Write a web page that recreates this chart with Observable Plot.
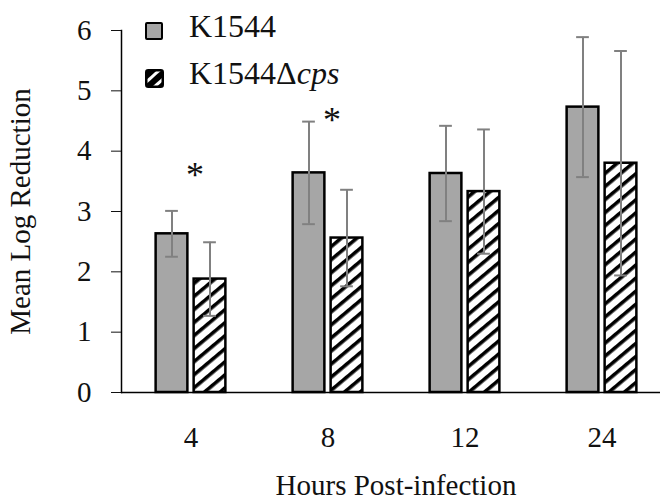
<!DOCTYPE html>
<html><head><meta charset="utf-8">
<script src="https://cdn.jsdelivr.net/npm/d3@7"></script>
<script src="https://cdn.jsdelivr.net/npm/@observablehq/plot@0.6"></script>
<style>
body{margin:0;background:#fff;}
#wrap{position:relative;width:660px;height:504px;overflow:hidden;}
.lg{position:absolute;font-family:"Liberation Serif",serif;font-size:32px;color:#111;line-height:1;white-space:nowrap;}
.sw{position:absolute;width:14px;height:14px;border:2.5px solid #000;border-radius:2px;}
</style></head><body>
<div id="wrap"><div id="chart"></div><div id="legend"></div></div>
<script>
// ---- data ----
const hours = ["4", "8", "12", "24"];
const strains = ["K1544", "K1544Δcps"];
const wildMean = [2.63, 3.64, 3.63, 4.73];
const wildErr = [0.38, 0.85, 0.79, 1.16];
const mutMean = [1.88, 2.56, 3.33, 3.80];
const mutErr = [0.61, 0.80, 1.03, 1.86];
const starHours = ["4", "8"];
const starValues = [3.72, 4.62];
const yTicks = [0, 1, 2, 3, 4, 5, 6];

const wild = hours.map((h, i) => ({hour: h, mean: wildMean[i], lo: wildMean[i] - wildErr[i], hi: wildMean[i] + wildErr[i]}));
const mut = hours.map((h, i) => ({hour: h, mean: mutMean[i], lo: mutMean[i] - mutErr[i], hi: mutMean[i] + mutErr[i]}));
const stars = starHours.map((h, i) => ({hour: h, v: starValues[i]}));

const W = 660, H = 504;
const step = (W - 121 + 10) / 4, half = step / 2;
const font = '"Liberation Serif", serif';

const errMarks = (data, off) => [
  Plot.ruleX(data, {x: "hour", y1: "lo", y2: "hi", dx: off, stroke: "#808080", strokeWidth: 2}),
  Plot.tickY(data, {x: "hour", y: "hi", dx: off, inset: half - 6.5, stroke: "#808080", strokeWidth: 2}),
  Plot.tickY(data, {x: "hour", y: "lo", dx: off, inset: half - 6.5, stroke: "#808080", strokeWidth: 2})
];

const chart = Plot.plot({
  width: W, height: H,
  marginLeft: 121, marginRight: -10, marginTop: 30, marginBottom: 112,
  style: {fontFamily: font, fontSize: "29px", color: "#111", background: "#fff", overflow: "hidden"},
  x: {domain: hours, padding: 0},
  y: {domain: [0, 6], ticks: yTicks},
  marks: [
    Plot.barY(wild, {x: "hour", y: "mean", fill: "#a6a6a6", stroke: "#000", strokeWidth: 2.5, insetLeft: half - 35, insetRight: half + 3}),
    Plot.barY(mut, {x: "hour", y: "mean", fill: "url(#hatch)", stroke: "#000", strokeWidth: 2.5, insetLeft: half + 3, insetRight: half - 35}),
    ...errMarks(wild, -19),
    ...errMarks(mut, 19),
    Plot.text(stars, {x: "hour", y: "v", text: () => "*", dx: 4, fontSize: 36, fill: "#111", lineAnchor: "middle", dy: 7}),
    Plot.ruleY([0], {stroke: "#000", strokeWidth: 1.5}),
    Plot.frame({anchor: "left", stroke: "#000", strokeWidth: 1.5}),
    Plot.axisY({ticks: yTicks, tickSize: 10, tickPadding: 20, tickFormat: d3.format("d"), label: "Mean Log Reduction", labelArrow: false, labelAnchor: "center", labelOffset: 112, fontSize: 29}),
    Plot.axisX({tickSize: 0, tickPadding: 34, label: "Hours Post-infection", labelAnchor: "center", labelArrow: false, labelOffset: 102, fontSize: 29})
  ]
});

// hatch pattern
const svg = d3.select(chart.tagName.toLowerCase() === "svg" ? chart : chart.querySelector("svg"));
const defs = svg.insert("defs", ":first-child");
const pat = defs.append("pattern").attr("id", "hatch").attr("patternUnits", "userSpaceOnUse")
  .attr("width", 10).attr("height", 10).attr("patternTransform", "rotate(-40)");
pat.append("rect").attr("width", 10).attr("height", 10).attr("fill", "#fff");
pat.append("rect").attr("width", 10).attr("height", 3.6).attr("fill", "#000");
document.getElementById("chart").appendChild(chart);

// legend
const lg = document.getElementById("legend");
lg.innerHTML = `
<div class="sw" style="left:145px;top:22px;background:#a6a6a6"></div>
<div class="lg" style="left:189px;top:10px">${strains[0]}</div>
<svg style="position:absolute;left:145px;top:69px" width="19" height="19"><rect x="1.25" y="1.25" width="16.5" height="16.5" rx="2" fill="url(#hatchL)" stroke="#000" stroke-width="2.5"/>
<defs><pattern id="hatchL" patternUnits="userSpaceOnUse" width="9" height="9" patternTransform="rotate(-42)"><rect width="9" height="9" fill="#000"/><rect width="9" height="3" fill="#fff"/></pattern></defs></svg>
<div class="lg" style="left:189px;top:57px">${strains[1].replace("cps", "")}<i>cps</i></div>`;
</script>
</body></html>
